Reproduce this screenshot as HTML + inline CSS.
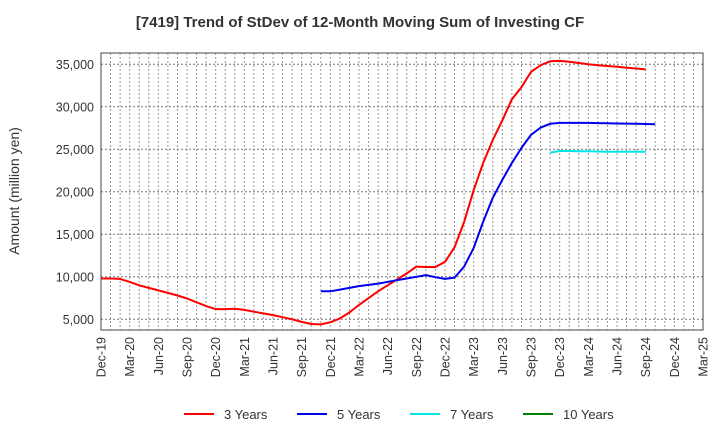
<!DOCTYPE html>
<html><head><meta charset="utf-8"><style>
body{margin:0;background:#fff;}
svg{font-family:"Liberation Sans",Arial,sans-serif;}
</style></head><body>
<svg id="chart" width="720" height="440" viewBox="0 0 720 440">
<text x="360" y="27" text-anchor="middle" font-size="15" font-weight="bold" fill="#333">[7419]  Trend of StDev of 12-Month Moving Sum of Investing CF</text>
<text transform="translate(19,191) rotate(-90)" text-anchor="middle" font-size="14" fill="#333">Amount (million yen)</text>
<g id="grid"></g>
<g id="series"></g>
<rect x="101" y="53" width="602" height="277" fill="none" stroke="#444" stroke-width="1"/>
<g id="yticks"></g>
<g id="xticks"></g>
<g id="legend"></g>
</svg>
<script>
const xLabels=["Dec-19","Mar-20","Jun-20","Sep-20","Dec-20","Mar-21","Jun-21","Sep-21","Dec-21","Mar-22","Jun-22","Sep-22","Dec-22","Mar-23","Jun-23","Sep-23","Dec-23","Mar-24","Jun-24","Sep-24","Dec-24","Mar-25"];
const yTicks=[5000,10000,15000,20000,25000,30000,35000];
const red=[9800,9800,9750,9400,9000,8700,8400,8100,7800,7450,7000,6550,6200,6200,6250,6100,5900,5700,5500,5250,5000,4700,4450,4400,4650,5100,5800,6700,7500,8300,9000,9700,10400,11200,11150,11150,11750,13500,16450,20200,23400,26100,28400,30900,32300,34100,34900,35350,35400,35300,35150,35000,34900,34800,34700,34600,34500,34400];
const blueStart=23;
const blue=[8300,8300,8500,8700,8900,9050,9200,9400,9600,9800,10000,10200,9950,9750,9900,11200,13400,16500,19300,21400,23400,25150,26700,27550,28000,28100,28100,28100,28100,28080,28060,28040,28020,28000,27980,27950];
const cyanStart=47;
const cyan=[24600,24800,24800,24780,24760,24740,24720,24700,24700,24700,24700];
const green=[];
const months=63;
const X=m=>101+m*602/months;
const Y=v=>319.3-(v-5000)*0.0085;
const NS="http://www.w3.org/2000/svg";
function mk(t,a,p){const e=document.createElementNS(NS,t);for(const k in a)e.setAttribute(k,a[k]);p.appendChild(e);return e;}
const grid=document.getElementById('grid');
for(let m=1;m<months;m++){const l=mk('line',{x1:X(m),x2:X(m),y1:53,y2:330,stroke:'#999','stroke-dasharray':'2,2','stroke-width':1},grid);

}
const yt=document.getElementById('yticks');
yTicks.forEach(v=>{const l=mk('line',{x1:101,x2:703,y1:Y(v),y2:Y(v),stroke:'#777','stroke-dasharray':'2,2','stroke-width':1},grid);


const t=mk('text',{x:94,y:Y(v)+4.5,'text-anchor':'end','font-size':12.5,fill:'#333'},yt);t.textContent=v.toLocaleString('en-US');

});
const xt=document.getElementById('xticks');
xLabels.forEach((s,i)=>{const x=X(i*3);const t=mk('text',{transform:`translate(${x+4.5},337) rotate(-90)`,'text-anchor':'end','font-size':12.5,fill:'#333'},xt);t.textContent=s;

});
const sg=document.getElementById('series');
function line(arr,start,color,name){if(!arr.length)return;const d=arr.map((v,i)=>(i?'L':'M')+X(start+i).toFixed(1)+','+Y(v).toFixed(1)).join('');
const p=mk('path',{d:d,fill:'none',stroke:color,'stroke-width':2,'stroke-linejoin':'round'},sg);

}
line(red,0,'#ff0000','series-3-years');
line(blue,blueStart,'#0000ee','series-5-years');
line(cyan,cyanStart,'#00e5e5','series-7-years');
line(green,0,'#008000','series-10-years');
const lg=document.getElementById('legend');
[["3 Years","#ff0000",184],["5 Years","#0000ee",297],["7 Years","#00e5e5",410],["10 Years","#008000",523]].forEach(([s,c,x])=>{
const g=mk('g',{},lg);


mk('line',{x1:x,x2:x+30,y1:414,y2:414,stroke:c,'stroke-width':2},g);
const t=mk('text',{x:x+40,y:419,'font-size':13,fill:'#333'},g);t.textContent=s;});
</script>
</body></html>
